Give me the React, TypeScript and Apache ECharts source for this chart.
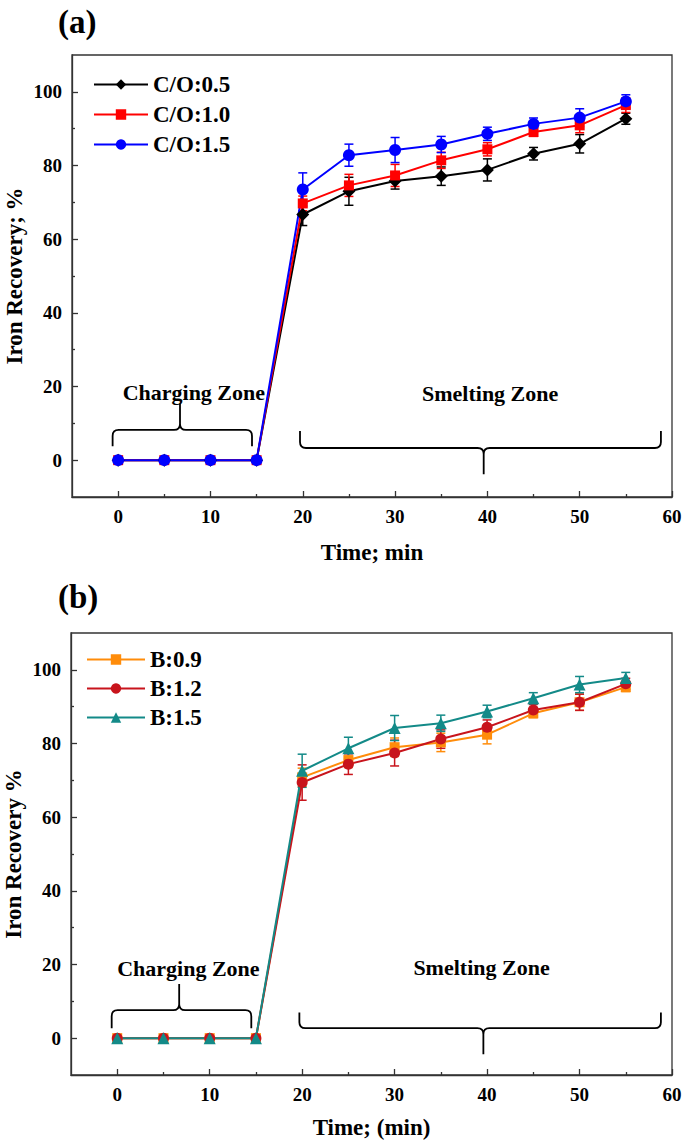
import React, { useEffect, useRef } from "react";
import * as echarts from "echarts";

// ---------- data ----------
const time = [0, 5, 10, 15, 20, 25, 30, 35, 40, 45, 50, 55];

// panel (a): C/O ratio
const namesA = ["C/O:0.5", "C/O:1.0", "C/O:1.5"];
const co05 = [0, 0, 0, 0, 66.7, 73.0, 75.8, 77.1, 78.8, 83.2, 85.9, 92.7];
const co05Err = [0, 0, 0, 0, 3.0, 3.8, 2.2, 2.5, 3.0, 1.7, 2.5, 1.5];
const co10 = [0, 0, 0, 0, 69.7, 74.6, 77.3, 81.4, 84.4, 89.1, 90.9, 96.4];
const co10Err = [0, 0, 0, 0, 2.0, 3.0, 3.0, 2.2, 1.8, 1.2, 2.0, 2.0];
const co15 = [0, 0, 0, 0, 73.5, 82.8, 84.2, 85.7, 88.6, 91.3, 93.0, 97.4];
const co15Err = [0, 0, 0, 0, 4.5, 3.0, 3.4, 2.2, 1.8, 1.6, 2.4, 1.8];

// panel (b): basicity
const namesB = ["B:0.9", "B:1.2", "B:1.5"];
const b09 = [0, 0, 0, 0, 70.8, 75.5, 79.0, 80.3, 82.4, 88.2, 91.2, 95.3];
const b09Err = [0, 0, 0, 0, 2.5, 2.0, 2.5, 2.5, 2.5, 1.2, 2.2, 1.2];
const b12 = [0, 0, 0, 0, 69.4, 74.4, 77.4, 81.2, 84.4, 89.1, 91.2, 96.2];
const b12Err = [0, 0, 0, 0, 4.8, 2.8, 3.5, 2.5, 2.0, 1.5, 2.2, 1.5];
const b15 = [0, 0, 0, 0, 72.6, 78.7, 84.2, 85.5, 88.7, 92.3, 96.0, 97.8];
const b15Err = [0, 0, 0, 0, 4.5, 3.0, 3.4, 2.2, 1.7, 1.5, 2.2, 1.5];

// ticks
const xMajor = [0, 10, 20, 30, 40, 50, 60];
const xMinor = [5, 15, 25, 35, 45, 55];
const yMajor = [0, 20, 40, 60, 80, 100];
const yMinor = [10, 30, 50, 70, 90];

// zone annotations (data units): [from, to, tip, lineY, endY, tipY, labelX, labelY]
const zoneLabels = ["Charging Zone", "Smelting Zone"];
const zonesA = [
  [-0.6, 14.5, 6.7, 8.2, 3.8, 15.3, 8.2, 18.4],
  [19.7, 58.8, 39.6, 3.3, 7.9, -3.8, 40.3, 18.2],
];
const zonesB = [
  [-0.6, 14.5, 6.7, 7.6, 2.7, 14.7, 7.7, 19.0],
  [19.7, 58.8, 39.6, 2.7, 7.0, -4.4, 39.4, 19.3],
];

const FONT = '"Liberation Serif", "Times New Roman", serif';

export default function App() {
  const ref = useRef<HTMLDivElement>(null);
  useEffect(() => {
    if (!ref.current) return;
    const chart = echarts.init(ref.current, null, { renderer: "svg" });

    const pts = (ys: number[]) => time.map((t, i) => [t, ys[i]]);
    const errs = (ys: number[], es: number[]) => time.map((t, i) => [t, ys[i], es[i]]);

    const lineSeries = (name: string, ys: number[], color: string, symbol: string, size: number, xi: number, yi: number) => ({
      type: "line",
      name,
      data: pts(ys),
      xAxisIndex: xi,
      yAxisIndex: yi,
      symbol,
      symbolSize: size,
      showAllSymbol: true,
      lineStyle: { color, width: 2 },
      itemStyle: { color },
      z: 3,
      emphasis: { disabled: true },
    });

    const errSeries = (name: string, ys: number[], es: number[], color: string, xi: number, yi: number) => ({
      type: "custom",
      name: "err " + name,
      data: errs(ys, es),
      xAxisIndex: xi,
      yAxisIndex: yi,
      encode: { x: 0, y: 1 },
      z: 2,
      renderItem: (params: any, api: any) => {
        const x = api.value(0);
        const y = api.value(1);
        const e = api.value(2);
        if (!e) return { type: "group", children: [] };
        const p1 = api.coord([x, y + e]);
        const p2 = api.coord([x, y - e]);
        const w = 4.5;
        const style = { stroke: color, lineWidth: 1.5 };
        return {
          type: "group",
          children: [
            { type: "line", shape: { x1: p1[0], y1: p1[1], x2: p2[0], y2: p2[1] }, style },
            { type: "line", shape: { x1: p1[0] - w, y1: p1[1], x2: p1[0] + w, y2: p1[1] }, style },
            { type: "line", shape: { x1: p2[0] - w, y1: p2[1], x2: p2[0] + w, y2: p2[1] }, style },
          ],
        };
      },
    });

    const zoneSeries = (zones: number[][], xi: number, yi: number) => ({
      type: "custom",
      name: "zones" + xi,
      data: zones,
      xAxisIndex: xi,
      yAxisIndex: yi,
      encode: { x: [0, 1], y: [3, 4] },
      z: 1,
      silent: true,
      clip: false,
      renderItem: (params: any, api: any) => {
        const z = zones[params.dataIndex];
        const [from, to, tip, lineY, endY, tipY, lx, ly] = z;
        const a = api.coord([from, lineY]);
        const b = api.coord([to, lineY]);
        const m = api.coord([tip, tipY]);
        const en = api.coord([from, endY]);
        const yl = a[1];
        const ye = en[1];
        const yt = m[1];
        const e = Math.sign(ye - yl);
        const r = 6;
        const x0 = a[0], x1 = b[0], xm = m[0];
        const d =
          `M${x0},${ye} L${x0},${yl + e * r} Q${x0},${yl} ${x0 + r},${yl} L${xm - r},${yl} ` +
          `Q${xm},${yl} ${xm},${yl - e * r} L${xm},${yt} M${xm},${yl - e * r} ` +
          `Q${xm},${yl} ${xm + r},${yl} L${x1 - r},${yl} Q${x1},${yl} ${x1},${yl + e * r} L${x1},${ye}`;
        const lp = api.coord([lx, ly]);
        return {
          type: "group",
          children: [
            { type: "path", shape: { pathData: d }, style: { fill: "none", stroke: "#000", lineWidth: 1.8 } },
            {
              type: "text",
              style: {
                text: zoneLabels[params.dataIndex],
                x: lp[0],
                y: lp[1],
                textAlign: "center",
                textVerticalAlign: "middle",
                font: `bold 22px ${FONT}`,
                fill: "#000",
              },
            },
          ],
        };
      },
    });

    const labelStyle = { fontFamily: FONT, fontWeight: "bold", fontSize: 19, color: "#000" };

    const xMain = (grid: number, name: string, size: number, gap: number) => ({
      type: "value",
      gridIndex: grid,
      min: -5,
      max: 60,
      position: "bottom",
      name,
      nameLocation: "middle",
      nameGap: gap,
      nameMoveOverlap: false,
      nameTextStyle: { fontFamily: FONT, fontWeight: "bold", fontSize: size, color: "#000" },
      axisLine: { show: true, onZero: false, lineStyle: { color: "#333", width: 1.3 } },
      axisTick: { show: true, inside: true, length: 6, customValues: xMajor, lineStyle: { color: "#333", width: 1.3 } },
      axisLabel: { ...labelStyle, margin: 10, customValues: xMajor },
      splitLine: { show: false },
    });
    const xMin = (grid: number) => ({
      type: "value",
      gridIndex: grid,
      min: -5,
      max: 60,
      position: "bottom",
      offset: 0,
      axisLine: { show: false, onZero: false },
      axisTick: { show: true, inside: true, length: 3, customValues: xMinor, lineStyle: { color: "#333", width: 1.3 } },
      axisLabel: { show: false },
      splitLine: { show: false },
    });
    const yMain = (grid: number, name: string) => ({
      type: "value",
      gridIndex: grid,
      min: -10,
      max: 110,
      position: "left",
      name,
      nameLocation: "middle",
      nameGap: 46,
      nameRotate: 90,
      nameMoveOverlap: false,
      nameTextStyle: { fontFamily: FONT, fontWeight: "bold", fontSize: 23, color: "#000" },
      axisLine: { show: true, onZero: false, lineStyle: { color: "#333", width: 1.3 } },
      axisTick: { show: true, inside: true, length: 6, customValues: yMajor, lineStyle: { color: "#333", width: 1.3 } },
      axisLabel: { ...labelStyle, margin: 10, customValues: yMajor },
      splitLine: { show: false },
    });
    const yMin = (grid: number) => ({
      type: "value",
      gridIndex: grid,
      min: -10,
      max: 110,
      position: "left",
      offset: 0,
      axisLine: { show: false, onZero: false },
      axisTick: { show: true, inside: true, length: 3, customValues: yMinor, lineStyle: { color: "#333", width: 1.3 } },
      axisLabel: { show: false },
      splitLine: { show: false },
    });

    const legend = (names: string[], top: number, left: number, w: number, gap: number) => ({
      orient: "vertical",
      left,
      top,
      padding: 0,
      data: names,
      itemWidth: w,
      itemHeight: 13,
      itemGap: gap,
      selectedMode: false,
      textStyle: { fontFamily: FONT, fontWeight: "bold", fontSize: 23, color: "#000", lineHeight: 23 },
    });

    const colA = ["#000000", "#ff0000", "#0000ff"];
    const colB = ["#ff8c0a", "#c8141c", "#138a88"];

    chart.setOption({
      animation: false,
      backgroundColor: "#fff",
      grid: [
        { left: 72, top: 55, width: 600, height: 442, show: true, borderColor: "#333", borderWidth: 1.3, backgroundColor: "transparent", containLabel: false, outerBoundsMode: "none" },
        { left: 71, top: 633, width: 601, height: 442, show: true, borderColor: "#333", borderWidth: 1.3, backgroundColor: "transparent", containLabel: false, outerBoundsMode: "none" },
      ],
      xAxis: [xMain(0, "Time; min", 23, 44), xMin(0), xMain(1, "Time; (min)", 23, 41), xMin(1)],
      yAxis: [yMain(0, "Iron Recovery; %"), yMin(0), yMain(1, "Iron Recovery %"), yMin(1)],
      legend: [legend(namesA, 73, 93, 54, 7), legend(namesB, 648, 86, 58, 6)],
      graphic: [
        { type: "text", left: 58, top: 5, style: { text: "(a)", font: `bold 33px ${FONT}`, fill: "#000" } },
        { type: "text", left: 58, top: 580, style: { text: "(b)", font: `bold 33px ${FONT}`, fill: "#000" } },
      ],
      series: [
        zoneSeries(zonesA, 0, 0),
        zoneSeries(zonesB, 2, 2),
        errSeries(namesA[0], co05, co05Err, colA[0], 0, 0),
        errSeries(namesA[1], co10, co10Err, colA[1], 0, 0),
        errSeries(namesA[2], co15, co15Err, colA[2], 0, 0),
        lineSeries(namesA[0], co05, colA[0], "diamond", 13, 0, 0),
        lineSeries(namesA[1], co10, colA[1], "rect", 10, 0, 0),
        lineSeries(namesA[2], co15, colA[2], "circle", 12, 0, 0),
        errSeries(namesB[0], b09, b09Err, colB[0], 2, 2),
        errSeries(namesB[1], b12, b12Err, colB[1], 2, 2),
        errSeries(namesB[2], b15, b15Err, colB[2], 2, 2),
        lineSeries(namesB[0], b09, colB[0], "rect", 10, 2, 2),
        lineSeries(namesB[1], b12, colB[1], "circle", 11, 2, 2),
        lineSeries(namesB[2], b15, colB[2], "triangle", 12, 2, 2),
      ],
    });
    return () => chart.dispose();
  }, []);
  return <div ref={ref} style={{ position: "absolute", left: 0, top: 0, width: 685, height: 1141 }} />;
}
